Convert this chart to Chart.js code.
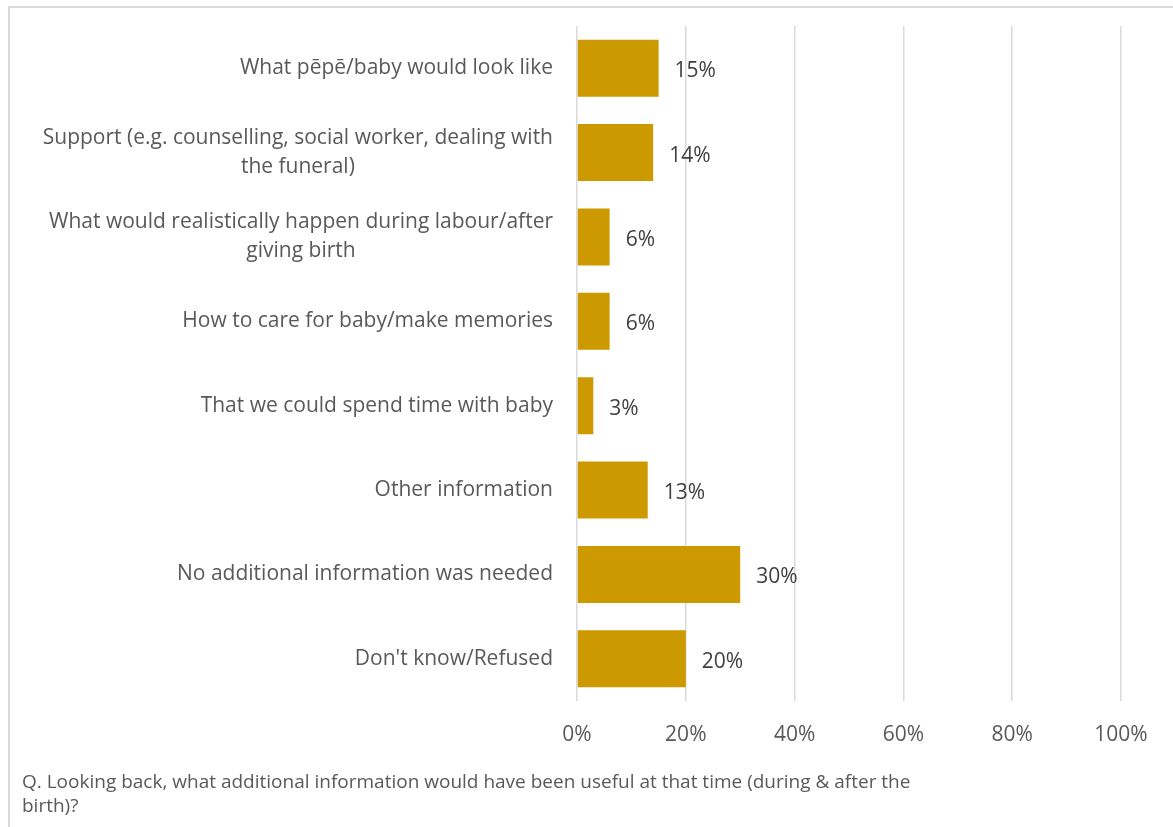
<!DOCTYPE html>
<html>
<head>
<meta charset="utf-8">
<script src="https://cdn.jsdelivr.net/npm/chart.js@4/dist/chart.umd.min.js"></script>
<style>
  html, body { margin: 0; padding: 0; background: #fff; overflow: hidden; }
  #wrap { position: relative; width: 1173px; height: 827px; }
  #frame {
    position: absolute; left: 8px; top: 6px; right: -10px; bottom: -10px;
    border-left: 2px solid #d9d9d9; border-top: 2px solid #d9d9d9;
  }
  #chart { position: absolute; left: 0; top: 0; }
  #note {
    position: absolute; left: 22px; top: 769px;
    font-family: "Open Sans", sans-serif; font-size: 19px; line-height: 24px; color: #595959;
    white-space: nowrap;
  }
</style>
</head>
<body>
<div id="wrap">
  <div id="frame"></div>
  <canvas id="chart" width="1173" height="827"></canvas>
  <div id="note">Q. Looking back, what additional information would have been useful at that time (during &amp; after the<br>birth)?</div>
</div>
<script>
const categories = [
  ['What pēpē/baby would look like'],
  ['Support (e.g. counselling, social worker, dealing with', 'the funeral)'],
  ['What would realistically happen during labour/after', 'giving birth'],
  ['How to care for baby/make memories'],
  ['That we could spend time with baby'],
  ['Other information'],
  ['No additional information was needed'],
  ["Don't know/Refused"]
];
const values = [15, 14, 6, 6, 3, 13, 30, 20];
const axisMax = 100;
const axisStep = 20;

const FONT = '"Open Sans", sans-serif';
const GREY = '#595959';

// category names, right aligned as a block, lines centred inside it
const categoryLabels = {
  id: 'categoryLabels',
  afterDraw(chart) {
    const ctx = chart.ctx;
    const meta = chart.getDatasetMeta(0);
    const right = chart.chartArea.left - 24;
    const lineH = 29;
    ctx.save();
    ctx.font = '21px ' + FONT;
    ctx.fillStyle = GREY;
    ctx.textAlign = 'center';
    ctx.textBaseline = 'middle';
    categories.forEach((lines, i) => {
      const y = meta.data[i].y;
      const w = Math.max(...lines.map(l => ctx.measureText(l).width));
      const cx = right - w / 2;
      lines.forEach((l, j) => {
        ctx.fillText(l, cx, y + (j - (lines.length - 1) / 2) * lineH);
      });
    });
    ctx.restore();
  }
};

// percentage next to each bar
const valueLabels = {
  id: 'valueLabels',
  afterDatasetsDraw(chart) {
    const ctx = chart.ctx;
    ctx.save();
    ctx.font = '21px ' + FONT;
    ctx.fillStyle = '#404040';
    ctx.textAlign = 'left';
    ctx.textBaseline = 'middle';
    chart.getDatasetMeta(0).data.forEach((bar, i) => {
      ctx.fillText(values[i] + '%', bar.x + 16, bar.y + 3);
    });
    ctx.restore();
  }
};

new Chart(document.getElementById('chart'), {
  type: 'bar',
  data: {
    labels: categories,
    datasets: [{
      data: values,
      backgroundColor: '#cc9900',
      barPercentage: 0.675,
      categoryPercentage: 1
    }]
  },
  options: {
    indexAxis: 'y',
    responsive: false,
    animation: false,
    layout: { padding: { top: 26, right: 52, left: 0, bottom: 0 } },
    plugins: { legend: { display: false }, tooltip: { enabled: false } },
    scales: {
      y: {
        grid: { display: false },
        border: { display: false },
        ticks: { display: false },
        afterFit(scale) { scale.width = 577; }
      },
      x: {
        min: 0,
        max: axisMax,
        grid: { color: '#d9d9d9', lineWidth: 1.5, drawTicks: false },
        border: { display: false },
        ticks: {
          stepSize: axisStep,
          padding: 21,
          color: GREY,
          font: { family: FONT, size: 21 },
          callback: v => v + '%'
        },
        afterFit(scale) { scale.height = 126; }
      }
    }
  },
  plugins: [categoryLabels, valueLabels]
});
</script>
</body>
</html>
